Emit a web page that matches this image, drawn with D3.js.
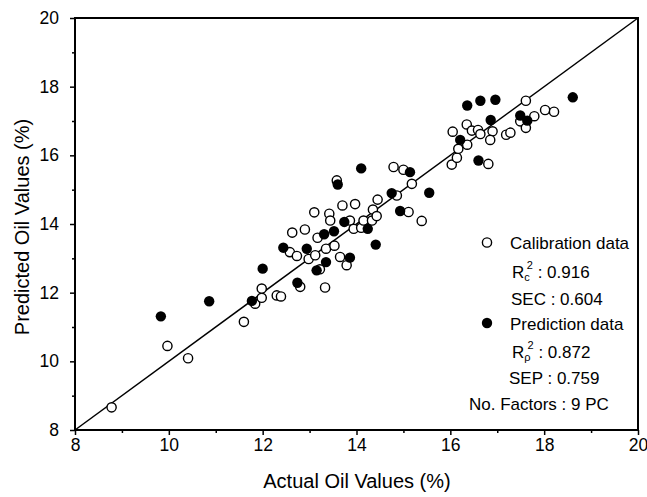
<!DOCTYPE html>
<html lang="en">
<head>
  <meta charset="UTF-8">
  <title>Actual vs Predicted Oil Values</title>
  <script src="https://d3js.org/d3.v7.min.js"></script>
  <style>
    body { margin: 0; background: #fff; }
    text { font-family: "Liberation Sans", Arial, sans-serif; fill: #000; }
  </style>
</head>
<body>
  <svg width="647" height="497"></svg>

  <script>
    // calibration data (open circles): [actual, predicted]
    var calibration = [
      [8.78, 8.66], [9.97, 10.45], [10.41, 10.09], [11.60, 11.15], [11.84, 11.68],
      [11.98, 11.85], [11.98, 12.12], [12.30, 11.92], [12.39, 11.89], [12.80, 12.17],
      [13.33, 12.15], [12.58, 13.18], [12.73, 13.07], [12.98, 12.98], [13.12, 13.09],
      [13.22, 12.68], [12.63, 13.75], [12.90, 13.84], [13.17, 13.60], [13.35, 13.28],
      [13.53, 13.37], [13.10, 14.34], [13.42, 14.30], [13.44, 14.10], [13.58, 15.27],
      [13.65, 13.04], [13.79, 12.80], [13.70, 14.54], [13.97, 14.58], [13.86, 14.10],
      [13.94, 13.86], [14.10, 13.89], [14.15, 14.10], [14.33, 14.10], [14.35, 14.42],
      [14.43, 14.23], [14.45, 14.71], [14.79, 15.66], [15.00, 15.58], [15.18, 15.17],
      [14.86, 14.83], [15.11, 14.35], [15.39, 14.09], [16.03, 15.73], [16.14, 15.93],
      [16.17, 16.19], [16.36, 16.31], [16.05, 16.69], [16.35, 16.90], [16.46, 16.72],
      [16.59, 16.74], [16.64, 16.62], [16.90, 16.70], [16.85, 16.45], [16.81, 15.75],
      [17.19, 16.60], [17.28, 16.66], [17.49, 16.99], [17.61, 16.80], [17.79, 17.14],
      [17.61, 17.59], [18.02, 17.32], [18.21, 17.27]
    ];

    // prediction data (filled circles): [actual, predicted]
    var prediction = [
      [9.83, 11.31], [10.86, 11.75], [11.77, 11.76], [12.00, 12.70], [12.74, 12.29],
      [12.44, 13.31], [12.94, 13.28], [13.15, 12.65], [13.35, 12.89], [13.31, 13.70],
      [13.52, 13.79], [13.60, 15.15], [13.74, 14.06], [13.86, 13.02], [14.10, 15.62],
      [14.24, 13.86], [14.41, 13.40], [14.75, 14.90], [14.93, 14.38], [15.14, 15.51],
      [15.55, 14.91], [16.21, 16.45], [16.60, 15.85], [16.36, 17.45], [16.64, 17.59],
      [16.96, 17.62], [16.86, 17.03], [17.49, 17.16], [17.64, 17.01], [18.61, 17.69]
    ];

    var majorTicks = [8, 10, 12, 14, 16, 18, 20];
    var minorTicks = [9, 11, 13, 15, 17, 19];
    var identityLine = [[8, 8], [20, 20]];

    var svg = d3.select("svg");
    var margin = { left: 75, right: 9, top: 18, bottom: 67 };
    var width = 647 - margin.left - margin.right,
        height = 497 - margin.top - margin.bottom;

    var g = svg.append("g").attr("transform", "translate(" + margin.left + "," + margin.top + ")");

    var x = d3.scaleLinear().domain([8, 20]).range([0, width]);
    var y = d3.scaleLinear().domain([8, 20]).range([height, 0]);

    // minor ticks
    g.append("g")
        .attr("transform", "translate(0," + height + ")")
        .call(d3.axisBottom(x).tickValues(minorTicks).tickSize(3).tickFormat(""));
    g.append("g")
        .call(d3.axisLeft(y).tickValues(minorTicks).tickSize(3).tickFormat(""));

    // major ticks + labels
    var xAxis = g.append("g")
        .attr("transform", "translate(0," + height + ")")
        .call(d3.axisBottom(x).tickValues(majorTicks).tickSize(5).tickPadding(4).tickFormat(d3.format("d")));
    var yAxis = g.append("g")
        .call(d3.axisLeft(y).tickValues(majorTicks).tickSize(5).tickPadding(11).tickFormat(d3.format("d")));

    g.selectAll(".domain").remove();
    g.selectAll(".tick line").attr("stroke", "#000").attr("stroke-width", 1.5);
    g.selectAll(".tick text")
        .style("font-size", "17.5px")
        .style("font-family", "Liberation Sans, Arial, sans-serif");

    // frame
    g.append("rect")
        .attr("width", width)
        .attr("height", height)
        .attr("fill", "none")
        .attr("stroke", "#000")
        .attr("stroke-width", 2);

    // 1:1 line
    g.append("path")
        .datum(identityLine)
        .attr("d", d3.line().x(d => x(d[0])).y(d => y(d[1])))
        .attr("stroke", "#000")
        .attr("stroke-width", 1.5)
        .attr("fill", "none");

    // points
    g.append("g").selectAll("circle")
        .data(calibration)
        .enter().append("circle")
        .attr("cx", d => x(d[0]))
        .attr("cy", d => y(d[1]))
        .attr("r", 4.6)
        .attr("fill", "#fff")
        .attr("stroke", "#000")
        .attr("stroke-width", 1.4);

    g.append("g").selectAll("circle")
        .data(prediction)
        .enter().append("circle")
        .attr("cx", d => x(d[0]))
        .attr("cy", d => y(d[1]))
        .attr("r", 5.2)
        .attr("fill", "#000");

    // axis titles
    svg.append("text")
        .attr("x", 357)
        .attr("y", 488)
        .attr("text-anchor", "middle")
        .style("font-size", "20px")
        .text("Actual Oil Values (%)");

    svg.append("text")
        .attr("transform", "translate(29,227) rotate(-90)")
        .attr("text-anchor", "middle")
        .style("font-size", "20px")
        .text("Predicted Oil Values (%)");

    // legend / stats
    var leg = svg.append("g").style("font-size", "17px");
    leg.append("circle").attr("cx", 487).attr("cy", 242.5).attr("r", 4.6)
        .attr("fill", "#fff").attr("stroke", "#000").attr("stroke-width", 1.4);
    leg.append("text").attr("x", 510).attr("y", 248.5).text("Calibration data");

    var rc = leg.append("text").attr("x", 512).attr("y", 277.5);
    rc.append("tspan").text("R");
    rc.append("tspan").attr("dy", 3).style("font-size", "11px").text("c");
    rc.append("tspan").attr("dy", -12).attr("dx", -3).style("font-size", "11px").text("2");
    rc.append("tspan").attr("dy", 9).text(" : 0.916");

    leg.append("text").attr("x", 511).attr("y", 305).text("SEC : 0.604");

    leg.append("circle").attr("cx", 487).attr("cy", 323).attr("r", 5.2).attr("fill", "#000");
    leg.append("text").attr("x", 510).attr("y", 329.5).text("Prediction data");

    var rp = leg.append("text").attr("x", 512).attr("y", 357.5);
    rp.append("tspan").text("R");
    rp.append("tspan").attr("dy", 3).style("font-size", "11px").text("ρ");
    rp.append("tspan").attr("dy", -12).attr("dx", -3).style("font-size", "11px").text("2");
    rp.append("tspan").attr("dy", 9).text(" : 0.872");

    leg.append("text").attr("x", 509).attr("y", 383.5).text("SEP : 0.759");
    leg.append("text").attr("x", 469).attr("y", 409.5).text("No.  Factors : 9 PC");
  </script>
</body>
</html>
